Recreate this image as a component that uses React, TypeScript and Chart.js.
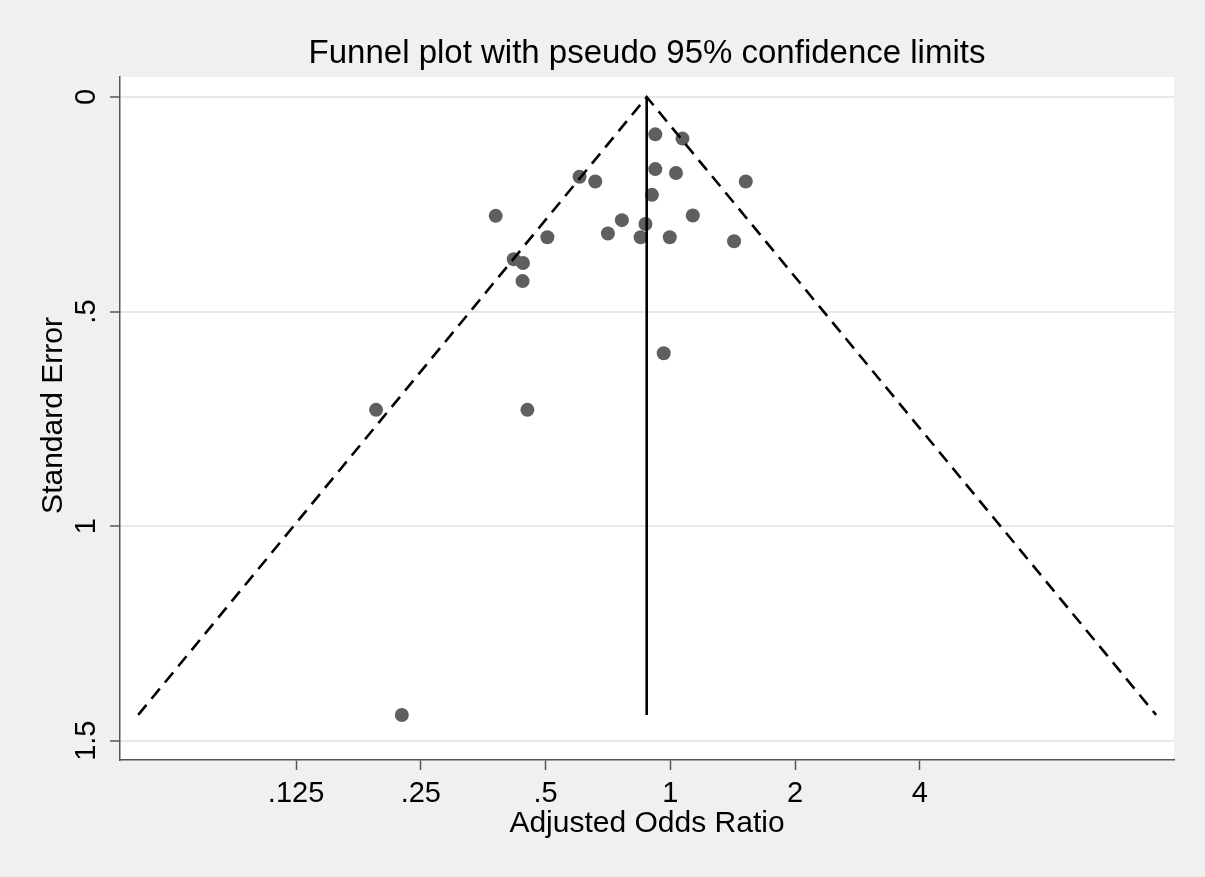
import React, { useEffect, useRef } from "react";
import { Chart, registerables } from "chart.js";

Chart.register(...registerables);

// ---- data ----
const TITLE = "Funnel plot with pseudo 95% confidence limits";
const X_TITLE = "Adjusted Odds Ratio";
const Y_TITLE = "Standard Error";

const OR_VALUES = [
  0.92, 1.07, 0.92, 1.032, 1.521, 0.604, 0.659, 0.903, 0.379, 1.133, 0.764, 0.871,
  0.707, 0.848, 0.997, 0.505, 1.425, 0.419, 0.441, 0.44, 0.195, 0.452, 0.964, 0.225,
];
const SE_VALUES = [
  0.087, 0.097, 0.168, 0.177, 0.197, 0.186, 0.197, 0.228, 0.277, 0.276, 0.287, 0.296,
  0.318, 0.327, 0.327, 0.327, 0.336, 0.378, 0.387, 0.429, 0.729, 0.729, 0.597, 1.44,
];

// pseudo 95% limits (left end, apex, right end) and pooled-estimate line
const FUNNEL_OR = [0.052, 0.877, 14.87];
const FUNNEL_SE = [1.44, 0, 1.44];
const POOLED_OR = [0.877, 0.877];
const POOLED_SE = [0, 1.44];

const X_TICKS = [0.125, 0.25, 0.5, 1, 2, 4];
const X_TICK_LABELS = [".125", ".25", ".5", "1", "2", "4"];
const Y_TICKS = [0, 0.5, 1, 1.5];
const Y_TICK_LABELS = ["0", ".5", "1", "1.5"];

const FONT = "'Liberation Sans', Arial, Helvetica, sans-serif";

export default function App() {
  const ref = useRef<HTMLCanvasElement | null>(null);

  useEffect(() => {
    document.body.style.margin = "0";
    const canvas = ref.current;
    if (!canvas) return;

    const bgPlugin = {
      id: "bgPlugin",
      beforeDraw(chart: any) {
        const { ctx, chartArea } = chart;
        ctx.save();
        ctx.fillStyle = "#f0f0f0";
        ctx.fillRect(0, 0, chart.width, chart.height);
        ctx.fillStyle = "#ffffff";
        ctx.fillRect(chartArea.left, chartArea.top, chartArea.right - chartArea.left, chartArea.bottom - chartArea.top);
        ctx.restore();
      },
      afterDraw(chart: any) {
        const { ctx, chartArea } = chart;
        const y = chart.scales.y;
        const cx = (chartArea.left + chartArea.right) / 2;
        const cy = (chartArea.top + chartArea.bottom) / 2;
        ctx.save();
        ctx.fillStyle = "#000";
        ctx.textBaseline = "alphabetic";
        ctx.textAlign = "center";
        // title
        ctx.font = `33px ${FONT}`;
        ctx.fillText(TITLE, cx, 63);
        // x axis title
        ctx.font = `30px ${FONT}`;
        ctx.fillText(X_TITLE, cx, 832);
        // y axis title (rotated)
        ctx.save();
        ctx.translate(62, cy - 3);
        ctx.rotate(-Math.PI / 2);
        ctx.fillText(Y_TITLE, 0, 0);
        ctx.restore();
        // y tick labels (rotated)
        ctx.font = `29px ${FONT}`;
        Y_TICKS.forEach((v, i) => {
          const py = y.getPixelForValue(v);
          ctx.save();
          ctx.translate(95, py);
          ctx.rotate(-Math.PI / 2);
          ctx.fillText(Y_TICK_LABELS[i], 0, 0);
          ctx.restore();
        });
        ctx.restore();
      },
    };

    const points = OR_VALUES.map((x, i) => ({ x, y: SE_VALUES[i] }));
    const funnel = FUNNEL_OR.map((x, i) => ({ x, y: FUNNEL_SE[i] }));
    const pooled = POOLED_OR.map((x, i) => ({ x, y: POOLED_SE[i] }));

    const chart = new Chart(canvas, {
      type: "scatter",
      data: {
        datasets: [
          {
            type: "line",
            data: funnel,
            borderColor: "#000",
            borderWidth: 2.6,
            borderDash: [13, 8],
            pointRadius: 0,
            fill: false,
            order: 1,
          } as any,
          {
            type: "line",
            data: pooled,
            borderColor: "#000",
            borderWidth: 2.6,
            pointRadius: 0,
            fill: false,
            order: 1,
          } as any,
          {
            type: "scatter",
            data: points,
            pointRadius: 7,
            pointBackgroundColor: "#5f5f5f",
            pointBorderWidth: 0,
            borderWidth: 0,
            order: 2,
          } as any,
        ],
      },
      options: {
        animation: false,
        responsive: false,
        maintainAspectRatio: false,
        devicePixelRatio: 1,
        layout: { padding: { top: 77, right: 31, left: 0, bottom: 0 } },
        plugins: {
          legend: { display: false },
          tooltip: { enabled: false },
          title: { display: false },
        },
        scales: {
          x: {
            type: "logarithmic",
            position: "bottom",
            min: 0.047,
            max: 16.42,
            afterBuildTicks: (s: any) => {
              s.ticks = X_TICKS.map((v) => ({ value: v }));
            },
            afterFit: (s: any) => {
              s.height = 117;
            },
            ticks: {
              autoSkip: false,
              maxRotation: 0,
              minRotation: 0,
              padding: 7,
              color: "#000",
              font: { family: FONT, size: 29 },
              callback: (_v: any, i: number) => X_TICK_LABELS[i],
            },
            grid: {
              display: true,
              drawOnChartArea: false,
              drawTicks: true,
              tickLength: 10,
              tickColor: "#555",
              tickWidth: 1.5,
            },
            border: { display: true, color: "#555", width: 1.5 },
          },
          y: {
            type: "linear",
            reverse: true,
            min: -0.0466,
            max: 1.545,
            afterBuildTicks: (s: any) => {
              s.ticks = Y_TICKS.map((v) => ({ value: v }));
            },
            afterFit: (s: any) => {
              s.width = 120;
            },
            ticks: { display: false },
            grid: {
              display: true,
              color: "#e8e8e8",
              lineWidth: 2,
              drawTicks: true,
              tickLength: 10,
              tickColor: "#555",
              tickWidth: 1.5,
            },
            border: { display: true, color: "#555", width: 1.5 },
          },
        },
      } as any,
      plugins: [bgPlugin],
    });

    return () => chart.destroy();
  }, []);

  return (
    <div style={{ width: 1205, height: 877 }}>
      <canvas ref={ref} width={1205} height={877} style={{ width: 1205, height: 877, display: "block" }} />
    </div>
  );
}
